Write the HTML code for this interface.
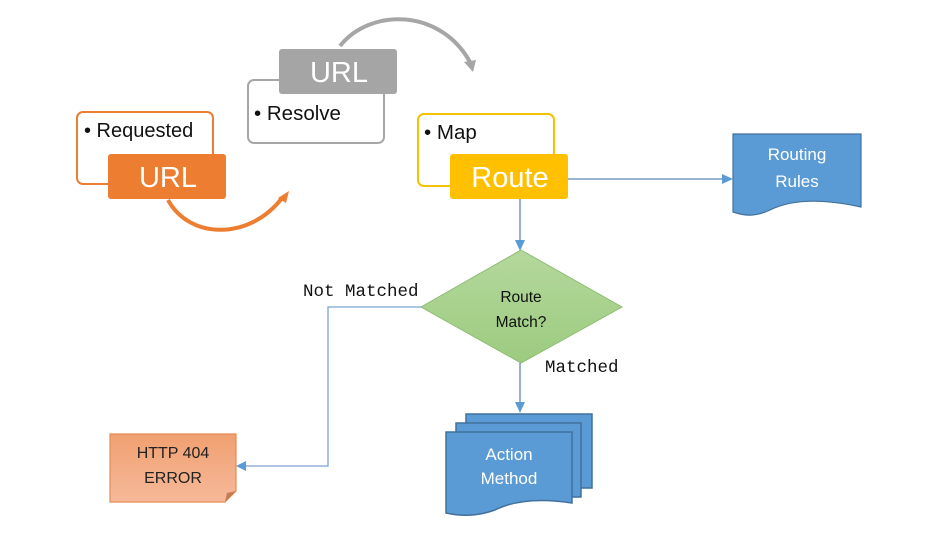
<!DOCTYPE html>
<html><head><meta charset="utf-8"><style>
html,body{margin:0;padding:0;background:#fff;}
svg{display:block;}
text{font-family:"Liberation Sans",sans-serif;}
.m{font-family:"Liberation Mono",monospace;font-size:17.5px;fill:#111;}
</style></head><body>
<svg width="940" height="540" viewBox="0 0 940 540" xmlns="http://www.w3.org/2000/svg">
<defs>
<linearGradient id="g" x1="0" y1="0" x2="0" y2="1"><stop offset="0" stop-color="#b4d89c"/><stop offset="1" stop-color="#9ccb7f"/></linearGradient>
<linearGradient id="o" x1="0" y1="0" x2="0" y2="1"><stop offset="0" stop-color="#f0a070"/><stop offset="1" stop-color="#f6b99a"/></linearGradient>
</defs>
<path d="M340,46 C370,8 440,8 470,62" fill="none" stroke="#a6a6a6" stroke-width="4"/>
<polygon points="464,62 476,60 473,72" fill="#a6a6a6"/>
<path d="M168,200 C190,240 250,240 282,198" fill="none" stroke="#ed7d31" stroke-width="4"/>
<polygon points="278,198 289,191 286,203" fill="#ed7d31"/>
<rect x="77" y="112" width="136" height="72" rx="6" fill="#fff" stroke="#ed7d31" stroke-width="2"/>
<text x="84" y="137" font-size="20" fill="#111">• Requested</text>
<rect x="108" y="154" width="118" height="45" rx="3" fill="#ed7d31"/>
<text x="168" y="187" font-size="29" fill="#fff" text-anchor="middle">URL</text>
<rect x="248" y="80" width="136" height="63" rx="6" fill="#fff" stroke="#a6a6a6" stroke-width="2"/>
<text x="254" y="120" font-size="20.5" fill="#111">• Resolve</text>
<rect x="279" y="49" width="118" height="45" rx="3" fill="#a5a5a5"/>
<text x="339" y="82" font-size="29" fill="#fff" text-anchor="middle">URL</text>
<rect x="418" y="114" width="136" height="72" rx="6" fill="#fff" stroke="#f4c300" stroke-width="2"/>
<text x="424" y="139" font-size="20.5" fill="#111">• Map</text>
<rect x="450" y="154" width="118" height="45" rx="3" fill="#ffc000"/>
<text x="510" y="187" font-size="29" fill="#fff" text-anchor="middle">Route</text>
<line x1="568" y1="179" x2="724" y2="179" stroke="#5b87b5" stroke-width="1.3"/>
<polygon points="722,174 733,179 722,184" fill="#5b9bd5"/>
<path d="M733,134 H861 V207 C820,198 790,200 770,210 C755,217 745,216 733,212 Z" fill="#5b9bd5" stroke="#41719c" stroke-width="1.2"/>
<text x="797" y="160" font-size="17" fill="#fff" text-anchor="middle">Routing</text>
<text x="797" y="187" font-size="17" fill="#fff" text-anchor="middle">Rules</text>
<line x1="520" y1="199" x2="520" y2="242" stroke="#5b87b5" stroke-width="1.3"/>
<polygon points="515,240 520,251 525,240" fill="#5b9bd5"/>
<polygon points="521,250 622,307 521,363 421,307" fill="url(#g)" stroke="#8fbc75" stroke-width="1"/>
<text x="521" y="302" font-size="15.5" fill="#111" text-anchor="middle">Route</text>
<text x="521" y="327" font-size="15.5" fill="#111" text-anchor="middle">Match?</text>
<polyline points="421,307 328,307 328,466 244,466" fill="none" stroke="#7ba5d0" stroke-width="1.3"/>
<polygon points="246,461 236,466 246,471" fill="#5b9bd5"/>
<text x="303" y="296" class="m">Not Matched</text>
<line x1="520" y1="363" x2="520" y2="404" stroke="#5b87b5" stroke-width="1.3"/>
<polygon points="515,402 520,413 525,402" fill="#5b9bd5"/>
<text x="545" y="372" class="m">Matched</text>
<path d="M110,434 H236 V491 L225,502 H110 Z" fill="url(#o)" stroke="#e58a55" stroke-width="1.2"/>
<polygon points="236,491 225,502 227,493" fill="#c97b50"/>
<text x="173" y="458" font-size="16" fill="#222" text-anchor="middle">HTTP 404</text>
<text x="173" y="483" font-size="16" fill="#222" text-anchor="middle">ERROR</text>
<rect x="466" y="414" width="126" height="74" fill="#5b9bd5" stroke="#41719c" stroke-width="1.5"/>
<rect x="456" y="423" width="125" height="74" fill="#5b9bd5" stroke="#41719c" stroke-width="1.5"/>
<path d="M446,432 H572 V503 C540,498 515,500 495,510 C475,517 460,516 446,513 Z" fill="#5b9bd5" stroke="#41719c" stroke-width="1.5"/>
<text x="509" y="460" font-size="17" fill="#fff" text-anchor="middle">Action</text>
<text x="509" y="484" font-size="17" fill="#fff" text-anchor="middle">Method</text>
</svg>
</body></html>
